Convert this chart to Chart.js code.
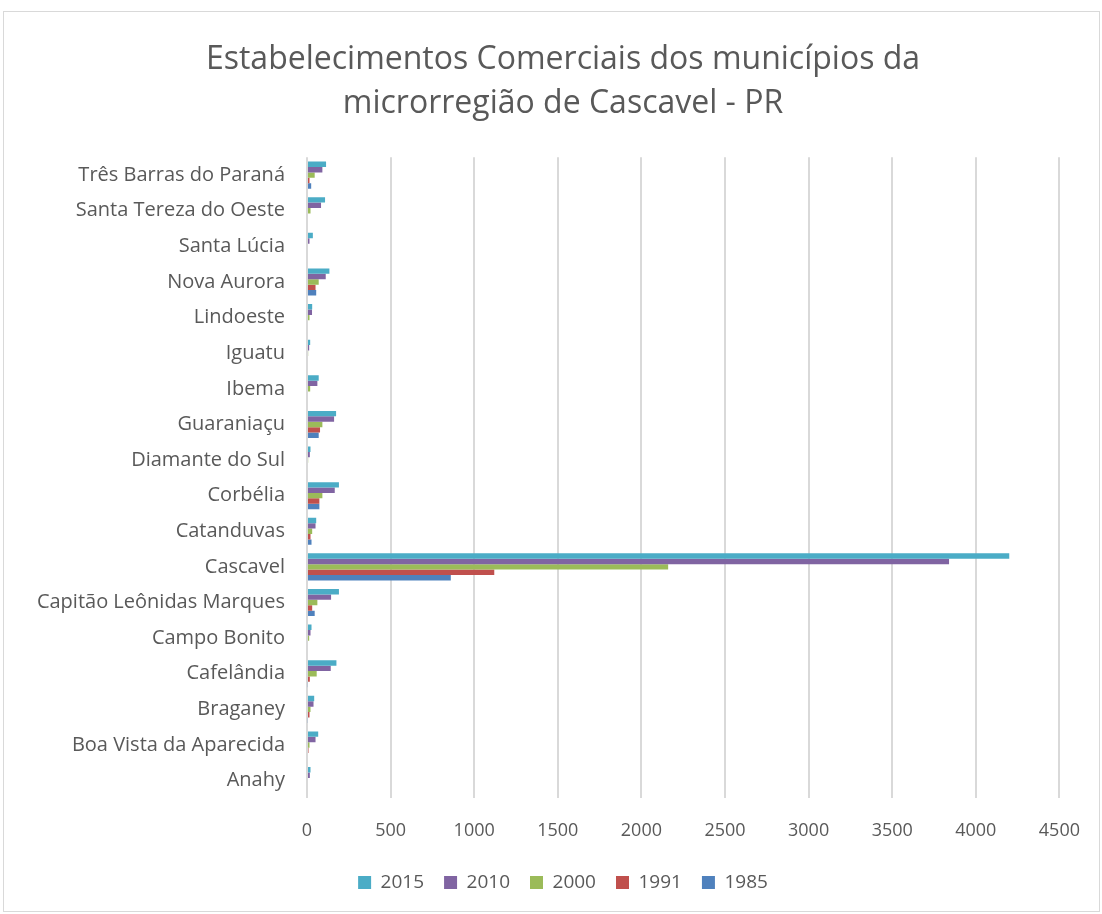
<!DOCTYPE html>
<html>
<head>
<meta charset="utf-8">
<script src="https://cdn.jsdelivr.net/npm/chart.js@4.4.0/dist/chart.umd.min.js"></script>
<style>
  html, body { margin: 0; padding: 0; background: #fff; }
  #frame { position: absolute; left: 3px; top: 11px; width: 1097px; height: 901px; border: 1px solid #d9d9d9; box-sizing: border-box; }
  #wrap { position: absolute; left: 0; top: 0; width: 1102px; height: 914px; }
</style>
</head>
<body>
<div id="frame"></div>
<div id="wrap"><canvas id="c" width="1102" height="914"></canvas></div>
<script>
const categories = ["Anahy","Boa Vista da Aparecida","Braganey","Cafelândia","Campo Bonito","Capitão Leônidas Marques","Cascavel","Catanduvas","Corbélia","Diamante do Sul","Guaraniaçu","Ibema","Iguatu","Lindoeste","Nova Aurora","Santa Lúcia","Santa Tereza do Oeste","Três Barras do Paraná"];
const v2015 = [21, 67, 43, 176, 27, 191, 4200, 55, 191, 21, 174, 70, 19, 31, 134, 35, 108, 114];
const v2010 = [17, 51, 39, 142, 21, 144, 3840, 51, 166, 17, 162, 62, 13, 30, 112, 15, 84, 92];
const v2000 = [6, 15, 21, 58, 13, 62, 2160, 31, 92, 7, 92, 19, 7, 15, 70, 0, 21, 46];
const v1991 = [0, 9, 15, 17, 0, 31, 1120, 21, 74, 0, 78, 0, 0, 0, 51, 0, 0, 15];
const v1985 = [0, 0, 5, 5, 0, 46, 860, 27, 74, 0, 70, 0, 0, 0, 55, 0, 0, 25];
const seriesNames = ["2015","2010","2000","1991","1985"];
const seriesColors = ["#4BACC6","#8064A2","#9BBB59","#C0504D","#4F81BD"];
const seriesValues = [v2015, v2010, v2000, v1991, v1985];
const xTicks = [0,500,1000,1500,2000,2500,3000,3500,4000,4500];
const titleLines = ["Estabelecimentos Comerciais dos municípios da","microrregião de Cascavel - PR"];

const FONT = "'Open Sans', 'DejaVu Sans', sans-serif";
const GREY = "#595959";

new Chart(document.getElementById('c'), {
  type: 'bar',
  data: {
    labels: categories,
    datasets: seriesNames.map((n, i) => ({
      label: n,
      data: seriesValues[i],
      backgroundColor: seriesColors[i],
      borderWidth: 0,
      categoryPercentage: 0.76,
      barPercentage: 1.0
    }))
  },
  options: {
    indexAxis: 'y',
    responsive: false,
    animation: false,
    layout: { padding: { left: 59, right: 35, top: 30, bottom: 12 } },
    plugins: {
      title: {
        display: true,
        text: titleLines,
        color: GREY,
        font: { family: FONT, size: 32, weight: 'normal', lineHeight: 1.38 },
        padding: { top: 8, bottom: 31 }
      },
      legend: {
        position: 'bottom',
        labels: {
          color: GREY,
          font: { family: FONT, size: 19 },
          boxWidth: 13, boxHeight: 13,
          padding: 20
        }
      },
      tooltip: { enabled: false }
    },
    scales: {
      x: {
        min: 0, max: 4500,
        afterBuildTicks: (s) => { s.ticks = xTicks.map(v => ({ value: v })); },
        afterFit: (s) => { s.height = s.height - 11; },
        grid: { color: '#d9d9d9', lineWidth: 2, drawTicks: false },
        border: { display: false },
        ticks: { color: GREY, font: { family: FONT, size: 18 }, padding: 22, callback: (v) => String(v) }
      },
      y: {
        reverse: true,
        grid: { display: false, drawTicks: false },
        border: { display: false },
        afterFit: (s) => { s.width = 248; s._computeLabelArea = () => undefined; },
        ticks: { color: GREY, font: { family: FONT, size: 20 }, padding: 22, autoSkip: false }
      }
    }
  }
});
</script>
</body>
</html>
